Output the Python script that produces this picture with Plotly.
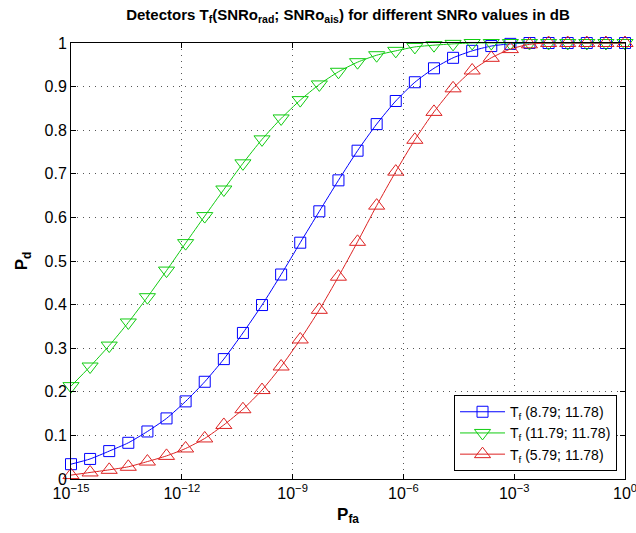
import numpy as np
import plotly.graph_objects as go

# 30 P_fa points, log-spaced from 1e-15 to 1
pfa = np.logspace(-15, 0, 30)

pd_blue = [0.034, 0.046, 0.064, 0.083, 0.109, 0.139, 0.178, 0.223, 0.275, 0.335,
           0.399, 0.469, 0.542, 0.614, 0.685, 0.753, 0.814, 0.867, 0.910, 0.942,
           0.966, 0.982, 0.993, 0.998, 1.0, 1.0, 1.0, 1.0, 1.0, 1.0]
pd_green = [0.213, 0.258, 0.306, 0.359, 0.417, 0.478, 0.541, 0.603, 0.664, 0.724,
            0.779, 0.827, 0.869, 0.905, 0.934, 0.956, 0.972, 0.982, 0.991, 0.995,
            0.998, 1.0, 1.0, 1.0, 1.0, 1.0, 1.0, 1.0, 1.0, 1.0]
pd_red = [0.009, 0.015, 0.021, 0.028, 0.040, 0.053, 0.070, 0.093, 0.124, 0.160,
          0.204, 0.258, 0.320, 0.388, 0.464, 0.544, 0.627, 0.705, 0.778, 0.842,
          0.896, 0.937, 0.966, 0.986, 0.997, 1.0, 1.0, 1.0, 1.0, 1.0]

names = ["T<sub>f</sub> (8.79; 11.78)", "T<sub>f</sub> (11.79; 11.78)", "T<sub>f</sub> (5.79; 11.78)"]
colors = ["#0000ff", "#11cc11", "#dd2222"]
symbols = ["square-open", "triangle-down-open", "triangle-up-open"]
sizes = [11, 14, 14]

x_tickvals = [1e-15, 1e-12, 1e-9, 1e-6, 1e-3, 1]
x_ticktext = ["10<sup>\u221215</sup>", "10<sup>\u221212</sup>", "10<sup>\u22129</sup>",
              "10<sup>\u22126</sup>", "10<sup>\u22123</sup>", "10<sup>0</sup>"]
y_tickvals = [0, 0.1, 0.2, 0.3, 0.4, 0.5, 0.6, 0.7, 0.8, 0.9, 1]
y_ticktext = ["0", "0.1", "0.2", "0.3", "0.4", "0.5", "0.6", "0.7", "0.8", "0.9", "1"]

fig = go.Figure()
for ys, nm, c, s, sz in zip([pd_blue, pd_green, pd_red], names, colors, symbols, sizes):
    fig.add_trace(go.Scatter(
        x=pfa, y=ys, name=nm, mode="lines+markers",
        line=dict(color=c, width=1, shape="spline", smoothing=0.6),
        marker=dict(symbol=s, size=sz, color=c, line=dict(color=c, width=1)),
        cliponaxis=False,
    ))

font_fam = "Liberation Sans, Arial, Helvetica, sans-serif"
fig.update_layout(
    width=636, height=533,
    margin=dict(l=71, r=11, t=43, b=54),
    paper_bgcolor="white", plot_bgcolor="white",
    font=dict(family=font_fam, color="black"),
    title=dict(
        text="<b>Detectors T<sub>f</sub>(SNRo<sub>rad</sub>; SNRo<sub>ais</sub>) for different SNRo values in dB</b>",
        x=0.5, xref="paper", xanchor="center", y=0.972, yanchor="middle",
        font=dict(size=15, family=font_fam, color="black"),
    ),
    legend=dict(
        x=0.9856, xanchor="right", y=0.018, yanchor="bottom",
        bgcolor="white", bordercolor="black", borderwidth=1,
        font=dict(size=14, family=font_fam, color="black"),
        tracegroupgap=0, itemwidth=45,
    ),
    showlegend=True,
)
fig.update_xaxes(
    type="log", range=[-15, 0],
    tickvals=x_tickvals, ticktext=x_ticktext, ticklabeloverflow="allow",
    tickfont=dict(size=16), ticks="inside", ticklen=5, tickcolor="black",
    showline=True, linecolor="black", linewidth=1, mirror="ticks",
    showgrid=True, gridcolor="#555555", griddash="1px,5px", gridwidth=1,
    zeroline=False, automargin=False,
    title=dict(text="<b>P<sub>fa</sub></b>", font=dict(size=17), standoff=6),
)
fig.update_yaxes(
    range=[0, 1], tickvals=y_tickvals, ticktext=y_ticktext,
    tickfont=dict(size=16), ticks="inside", ticklen=5, tickcolor="black",
    showline=True, linecolor="black", linewidth=1, mirror="ticks",
    showgrid=True, gridcolor="#555555", griddash="1px,5px", gridwidth=1,
    zeroline=False, automargin=False,
    title=dict(text="<b>P<sub>d</sub></b>", font=dict(size=17), standoff=12),
)

fig.write_html(
    "out.html",
    config={"displayModeBar": False},
    post_script="document.body.style.margin='0';document.body.style.padding='0';",
)
